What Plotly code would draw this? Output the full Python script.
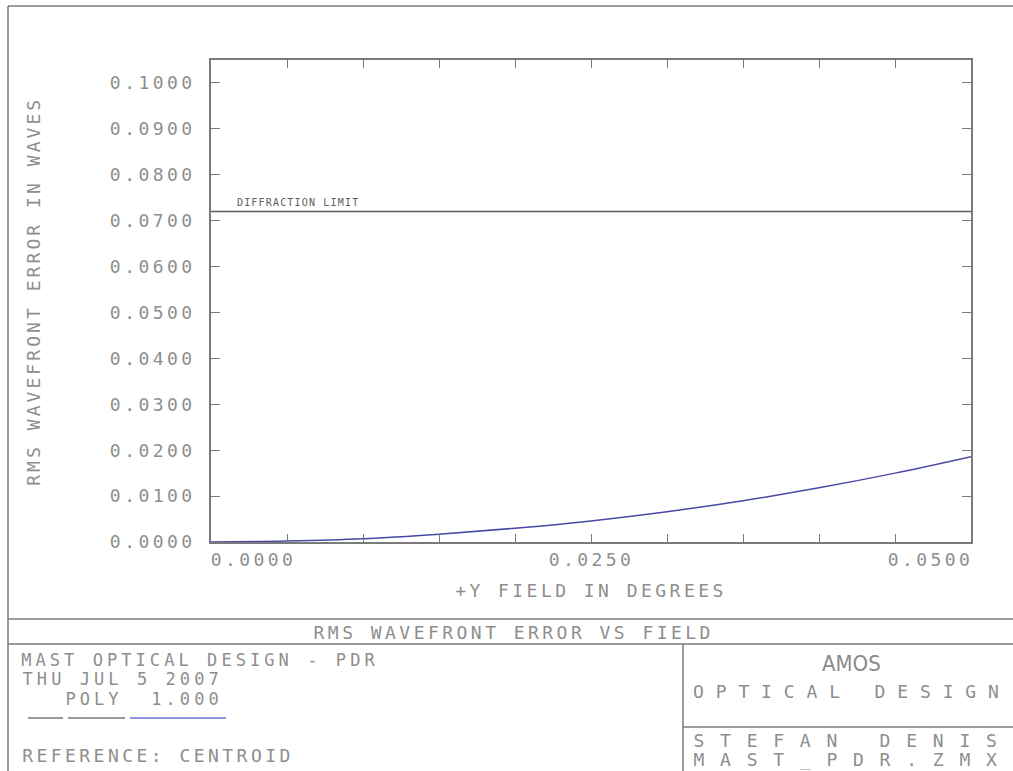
import json
import plotly.graph_objects as go

# ---- data ----
field_deg = [0.000, 0.005, 0.010, 0.015, 0.020, 0.025, 0.030, 0.035, 0.040, 0.045, 0.050]
rms_waves = [0.0000, 0.0002, 0.0007, 0.0017, 0.0030, 0.0046, 0.0066, 0.0090, 0.0118, 0.0150, 0.0186]
diffraction_limit = 0.0720
y_tick_vals = [0.00, 0.01, 0.02, 0.03, 0.04, 0.05, 0.06, 0.07, 0.08, 0.09, 0.10]
y_tick_text = ["0.0000", "0.0100", "0.0200", "0.0300", "0.0400", "0.0500",
               "0.0600", "0.0700", "0.0800", "0.0900", "0.1000"]
x_tick_vals = [0.000, 0.005, 0.010, 0.015, 0.020, 0.025, 0.030, 0.035, 0.040, 0.045, 0.050]
x_label_vals = [0.000, 0.025, 0.050]
x_label_text = ["0.0000", "0.0250", "0.0500"]

W, H = 1013, 771
L, R, T, B = 211, 971, 60, 542
MONO = "DejaVu Sans Mono"
FS = 18                 # font size of the stroke-like text
ADV = 0.602 * FS        # monospace advance
PITCH = 14.3            # character pitch seen in the reference
TXT = "#8e8e8e"
LINE = "#7a7a7a"

spacing = {}


def px(x):
    return (x - L) / (R - L)


def py(y):
    return (B - y) / (B - T)


fig = go.Figure()
fig.add_trace(go.Scatter(x=[field_deg[0], field_deg[-1]], y=[diffraction_limit, diffraction_limit],
                         mode="lines", line=dict(color="#5a5a5a", width=1.3), hoverinfo="skip"))
fig.add_trace(go.Scatter(x=field_deg, y=rms_waves, mode="lines", line_shape="spline",
                         line=dict(color="#4848a8", width=1.5)))

fig.update_layout(
    width=W, height=H, showlegend=False,
    margin=dict(l=L, r=W - R, t=T, b=H - B),
    paper_bgcolor="white", plot_bgcolor="white",
    font=dict(family=MONO, color=TXT, size=FS),
    xaxis=dict(range=[0, 0.05], tickvals=x_tick_vals, showticklabels=False,
               ticks="inside", ticklen=8, tickwidth=1.3, tickcolor=LINE,
               showline=True, linecolor=LINE, linewidth=1.5, mirror="ticks",
               showgrid=False, zeroline=False),
    yaxis=dict(range=[0, 0.105], tickvals=y_tick_vals, ticktext=y_tick_text,
               ticks="inside", ticklen=9, tickwidth=1.3, tickcolor=LINE,
               showline=True, linecolor=LINE, linewidth=1.5, mirror="ticks",
               showgrid=False, zeroline=False, ticklabelstandoff=10,
               tickfont=dict(family=MONO, size=FS, color=TXT)),
)
for t in y_tick_text:
    spacing[t] = PITCH - ADV

ann = []
x_shift = {0: 6 * PITCH / 2, 1: 0, 2: -6 * PITCH / 2 + 2}
for i, (v, t) in enumerate(zip(x_label_vals, x_label_text)):
    ann.append(dict(x=v, xref="x", y=py(559), yref="paper", text=t, showarrow=False,
                    xanchor="center", yanchor="middle", xshift=x_shift[i],
                    font=dict(size=FS)))
    spacing[t] = PITCH - ADV


def note(text, y, x0=None, xc=None, pitch=PITCH, size=FS, color=TXT, family=MONO, angle=0):
    """Place a text; x0 = left edge of first glyph, or xc = centre."""
    n = len(text)
    if xc is None:
        xc = x0 + n * pitch / 2
    if family == MONO:
        spacing[text] = pitch - 0.602 * size
    ann.append(dict(x=px(xc), xref="paper", y=py(y), yref="paper", text=text, showarrow=False,
                    xanchor="center", yanchor="middle", textangle=angle,
                    font=dict(size=size, color=color, family=family)))


note("DIFFRACTION LIMIT", 203, x0=236.5, pitch=7.2, size=10, color="#5e5e5e")
note("+Y FIELD IN DEGREES", 590, xc=591)
ann.append(dict(x=px(33), xref="paper", y=py(292), yref="paper", text="RMS WAVEFRONT ERROR IN WAVES",
                showarrow=False, xanchor="center", yanchor="middle", textangle=-90,
                font=dict(size=FS, color=TXT, family=MONO)))
spacing["RMS WAVEFRONT ERROR IN WAVES"] = 13.9 - ADV
note("RMS WAVEFRONT ERROR VS FIELD", 632, x0=313)
note("MAST OPTICAL DESIGN - PDR", 660, x0=22, size=17)
note("THU JUL 5 2007", 679, x0=22, size=17)
note("   POLY  1.000", 699, x0=22, size=17)
note("REFERENCE: CENTROID", 755, x0=22)
note("AMOS", 663, xc=851, size=22, family="DejaVu Sans Condensed, Liberation Sans", color="#8a8a8a")
note("OPTICAL DESIGN", 691, x0=693, pitch=22.7)
note("STEFAN DENIS", 741, x0=693, pitch=26.6)
note("MAST_PDR.ZMX", 759, x0=693, pitch=26.6)
fig.update_layout(annotations=ann)

shapes = []


def seg(x0, y0, x1, y1, color=LINE, width=1.5):
    shapes.append(dict(type="line", xref="paper", yref="paper", x0=px(x0), y0=py(y0),
                       x1=px(x1), y1=py(y1), line=dict(color=color, width=width)))


seg(8, 6, 1020, 6)
seg(8, 6, 8, 780)
seg(8, 619, 1020, 619)
seg(8, 644, 1020, 644)
seg(683, 644, 683, 780)
seg(683, 727, 1020, 727)
seg(28, 718, 63, 718, color="#777777", width=1.3)
seg(68, 718, 125, 718, color="#777777", width=1.3)
seg(130, 718, 226, 718, color="#7070d0", width=1.3)
fig.update_layout(shapes=shapes)

post = """
document.body.style.margin = '0';
var sp = %s;
var gd = document.getElementById('{plot_id}');
gd.querySelectorAll('text').forEach(function (t) {
  var s = sp[t.textContent];
  if (s !== undefined) { t.style.letterSpacing = s.toFixed(2) + 'px'; t.style.whiteSpace = 'pre'; }
});
""" % json.dumps(spacing)

fig.write_html("out.html", post_script=post, config={"displayModeBar": False})
